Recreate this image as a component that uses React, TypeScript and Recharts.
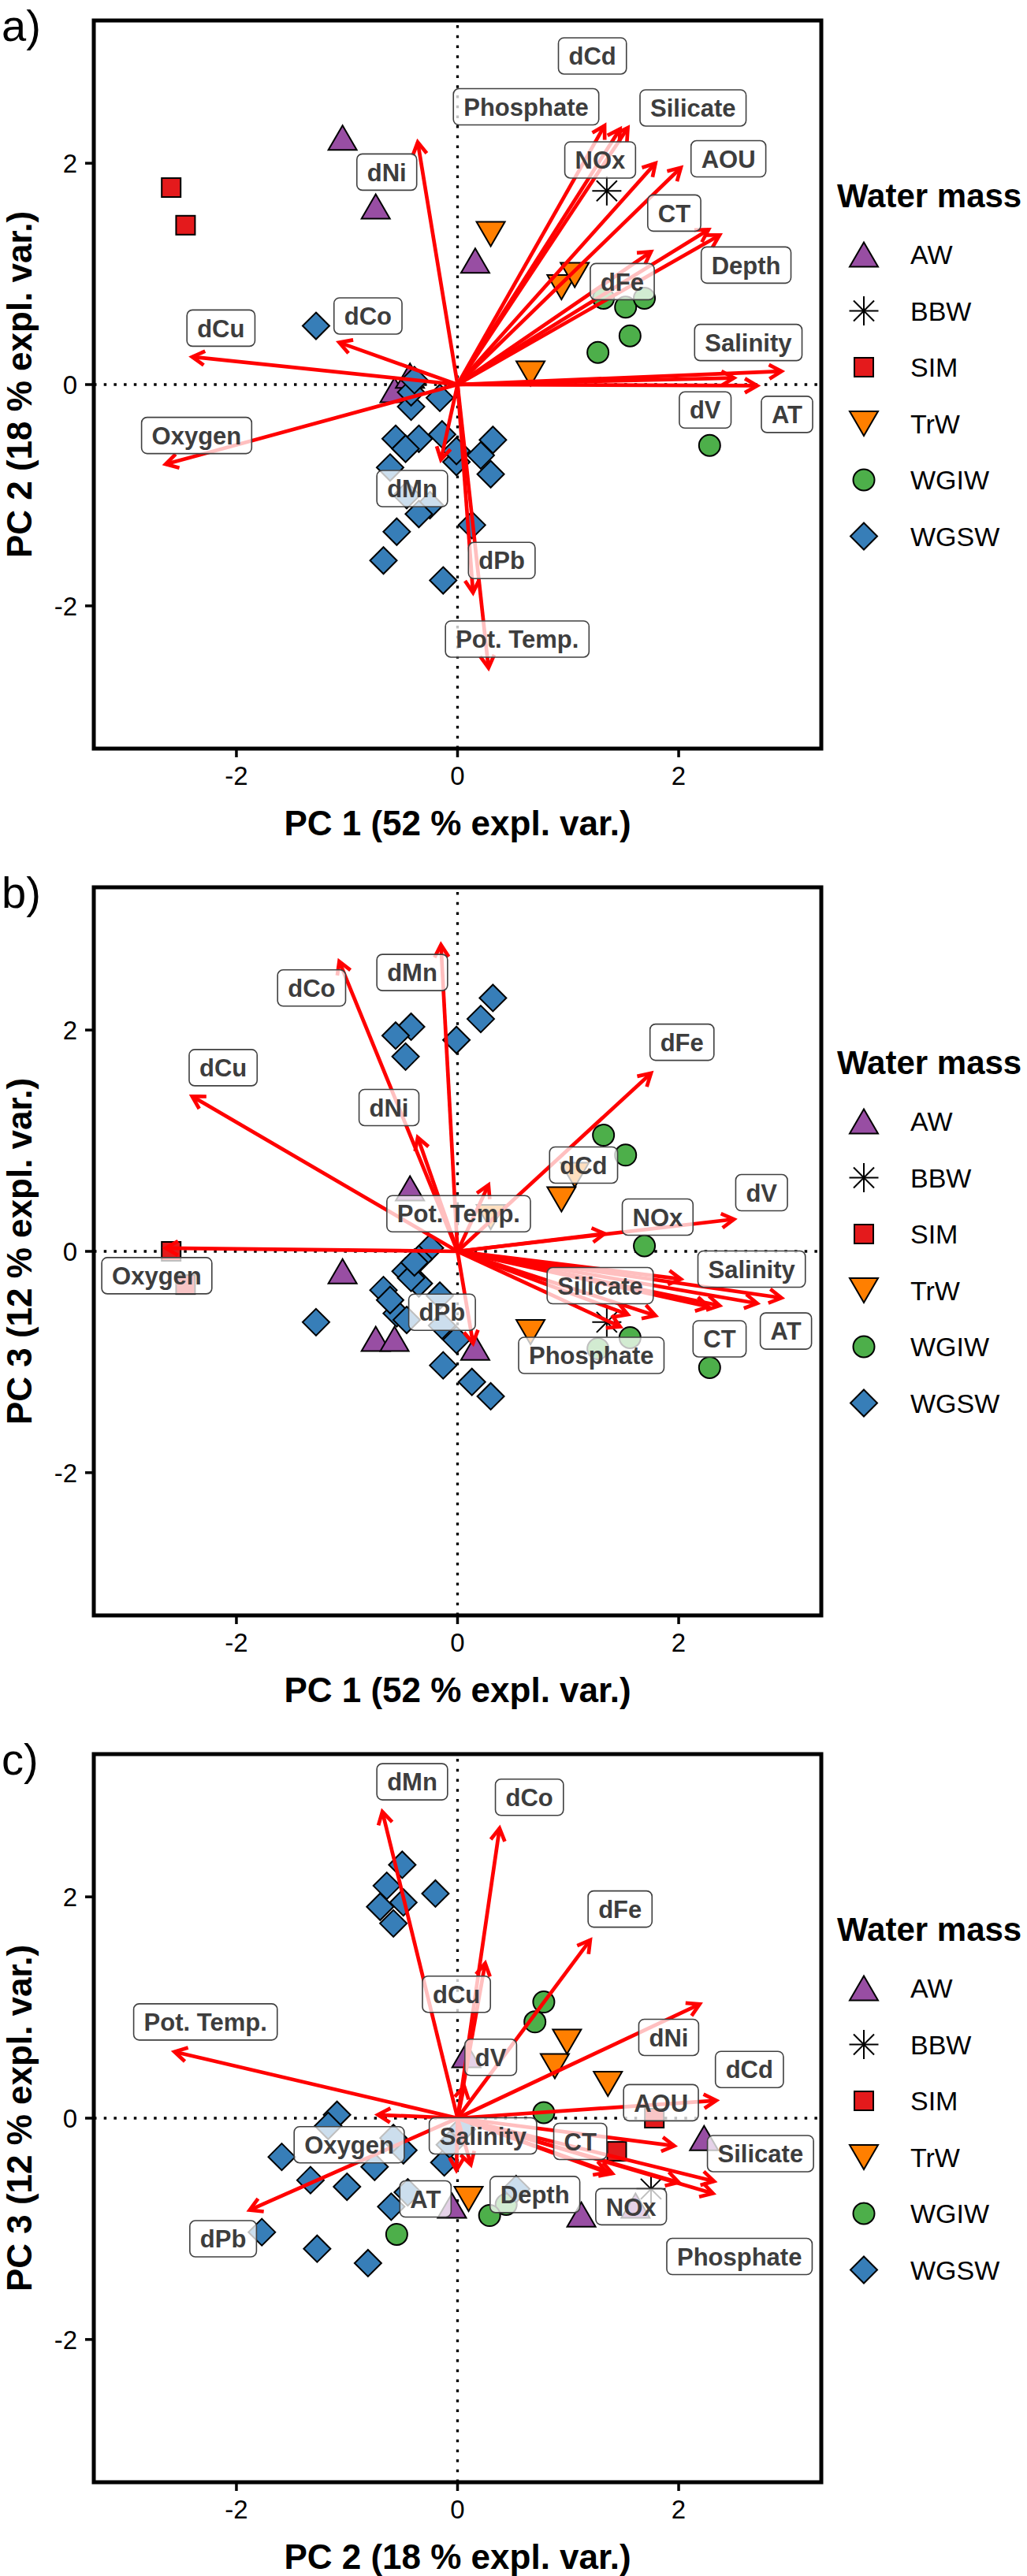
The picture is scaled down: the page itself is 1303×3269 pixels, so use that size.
import React from 'react';
import { ScatterChart, Scatter, XAxis, YAxis, ReferenceLine, ReferenceArea, Legend } from 'recharts';

const FONT = "'Liberation Sans', Arial, Helvetica, sans-serif";

// ---- categories ----
const WATER_MASSES = ['AW', 'BBW', 'SIM', 'TrW', 'WGIW', 'WGSW'];
const MASS_COLORS = ['#984EA3', '#000000', '#E41A1C', '#FF7F00', '#4DAF4A', '#377EB8'];

// ---- sample scores [PC1, PC2, PC3] ----
const AW_SCORES = [
  [-1.04, 2.23, -0.18],
  [-0.74, 1.61, -0.79],
  [0.16, 1.12, -0.87],
  [-0.57, -0.05, -0.79],
  [-0.43, 0.08, 0.57],
];
const BBW_SCORES = [[1.35, 1.75, -0.64]];
const SIM_SCORES = [
  [-2.59, 1.78, 0.0],
  [-2.46, 1.44, -0.3],
];
const TRW_SCORES = [
  [0.3, 1.36, 0.31],
  [0.66, 0.1, -0.73],
  [0.94, 0.88, 0.47],
  [1.06, 0.99, 0.69],
];
const WGIW_SCORES = [
  [1.32, 0.78, 1.05],
  [1.52, 0.7, 0.87],
  [1.69, 0.78, 0.05],
  [1.56, 0.44, -0.78],
  [1.27, 0.29, -0.88],
  [2.28, -0.55, -1.05],
];
const WGSW_SCORES = [
  [0.32, -0.5, 2.29],
  [0.21, -0.64, 2.1],
  [-0.42, -0.2, 2.03],
  [-0.56, -0.49, 1.95],
  [-0.01, -0.7, 1.91],
  [-0.47, -0.58, 1.76],
  [-0.13, -1.77, -1.03],
  [0.13, -1.27, -1.18],
  [0.3, -0.81, -1.31],
  [-1.28, 0.53, -0.64],
  [-0.67, -1.59, -0.35],
  [-0.55, -1.33, -0.56],
  [-0.46, -1.0, -0.62],
  [-0.25, -1.09, 0.03],
  [-0.35, -1.17, -0.07],
  [-0.61, -0.75, -0.44],
  [-0.01, -0.6, -0.8],
  [-0.14, -0.45, -0.67],
  [-0.35, -0.49, -0.29],
  [-0.47, -0.58, -0.18],
  [-0.16, -0.12, -0.4],
  [-0.42, -0.07, -0.24],
  [-0.39, 0.04, -0.1],
];
const SCORE_SETS = [AW_SCORES, BBW_SCORES, SIM_SCORES, TRW_SCORES, WGIW_SCORES, WGSW_SCORES];

// ---- variable loadings (arrow tips) ----
const VARIABLES = ['Depth', 'Pot. Temp.', 'Salinity', 'Oxygen', 'AOU', 'NOx', 'Phosphate', 'Silicate', 'AT', 'CT',
  'dCd', 'dCo', 'dCu', 'dFe', 'dMn', 'dNi', 'dPb', 'dV'];
const LOADING_PC1 = [2.37, 0.28, 2.93, -2.64, 2.02, 1.79, 1.47, 1.54, 2.71, 2.27, 1.33, -1.07, -2.4, 1.75, -0.15, -0.36, 0.14, 2.5];
const LOADING_PC2 = [1.35, -2.56, 0.12, -0.72, 1.96, 2.0, 2.31, 2.32, -0.01, 1.4, 2.34, 0.38, 0.25, 1.2, -0.68, 2.19, -1.88, 0.06];
const LOADING_PC3 = [-0.49, 0.6, -0.42, 0.03, -0.25, -0.58, -0.68, -0.57, -0.47, -0.5, 0.16, 2.62, 1.4, 1.61, 2.77, 1.03, -0.83, 0.29];
const LOADINGS = [LOADING_PC1, LOADING_PC2, LOADING_PC3];

// ---- axis text ----
const PC_TITLES = ['PC 1 (52 % expl. var.)', 'PC 2 (18 % expl. var.)', 'PC 3 (12 % expl. var.)'];
const AXIS_TICKS = [-2, 0, 2];
const AXIS_LIMIT = 3.29;

// ---- repelled label positions per panel [name, x, y] ----
const LABELS_A: [string, number, number][] = [
  ['dCd', 1.22, 2.97], ['Phosphate', 0.62, 2.51], ['Silicate', 2.13, 2.5], ['NOx', 1.29, 2.03],
  ['AOU', 2.45, 2.04], ['CT', 1.96, 1.55], ['Depth', 2.61, 1.08], ['dFe', 1.49, 0.93],
  ['Salinity', 2.63, 0.38], ['dV', 2.24, -0.23], ['AT', 2.98, -0.27], ['dNi', -0.64, 1.92],
  ['dCo', -0.81, 0.62], ['dCu', -2.14, 0.51], ['Oxygen', -2.36, -0.46], ['dMn', -0.41, -0.94],
  ['dPb', 0.4, -1.59], ['Pot. Temp.', 0.54, -2.3],
];
const LABELS_B: [string, number, number][] = [
  ['dCo', -1.32, 2.38], ['dMn', -0.41, 2.52], ['dCu', -2.12, 1.66], ['dNi', -0.62, 1.3],
  ['dFe', 2.03, 1.89], ['dCd', 1.14, 0.78], ['dV', 2.75, 0.53], ['NOx', 1.81, 0.31],
  ['Pot. Temp.', 0.01, 0.34], ['Oxygen', -2.72, -0.22], ['Silicate', 1.29, -0.31], ['Salinity', 2.66, -0.16],
  ['dPb', -0.14, -0.55], ['Phosphate', 1.21, -0.94], ['CT', 2.37, -0.79], ['AT', 2.97, -0.72],
];
const LABELS_C: [string, number, number][] = [
  ['dMn', -0.41, 3.04], ['dCo', 0.65, 2.9], ['dFe', 1.47, 1.89], ['dCu', -0.01, 1.12],
  ['Pot. Temp.', -2.28, 0.87], ['dNi', 1.91, 0.73], ['dV', 0.3, 0.55], ['dCd', 2.64, 0.44],
  ['AOU', 1.84, 0.14], ['Salinity', 0.23, -0.16], ['Oxygen', -0.98, -0.24], ['CT', 1.11, -0.21],
  ['Silicate', 2.74, -0.32], ['AT', -0.29, -0.73], ['Depth', 0.7, -0.69], ['NOx', 1.57, -0.8],
  ['dPb', -2.12, -1.09], ['Phosphate', 2.55, -1.25],
];

// ---- styling constants ----
const LABEL_FONT_SIZE = 31;
const LABEL_PAD_X = 13;
const LABEL_HEIGHT = 46;
const ARROW_COLOR = '#FF0000';
const ARROW_WIDTH = 4.7;

let measureCtx: any = null;
function measure(text: string): number {
  try {
    if (!measureCtx) measureCtx = document.createElement('canvas').getContext('2d');
    measureCtx.font = `bold ${LABEL_FONT_SIZE}px ${FONT}`;
    return measureCtx.measureText(text).width;
  } catch (e) {
    return text.length * LABEL_FONT_SIZE * 0.6;
  }
}

function drawMarker(group: string, cx: number, cy: number, color: string) {
  const sw = 2;
  switch (group) {
    case 'AW':
      return <polygon points={`${cx},${cy - 15.5} ${cx + 18},${cy + 15.5} ${cx - 18},${cy + 15.5}`} fill={color} stroke="#000" strokeWidth={sw} strokeLinejoin="miter" />;
    case 'BBW': {
      const a = 18.5, b = 13;
      return (
        <g stroke="#000" strokeWidth={2}>
          <line x1={cx - a} y1={cy} x2={cx + a} y2={cy} />
          <line x1={cx} y1={cy - a} x2={cx} y2={cy + a} />
          <line x1={cx - b} y1={cy - b} x2={cx + b} y2={cy + b} />
          <line x1={cx - b} y1={cy + b} x2={cx + b} y2={cy - b} />
        </g>
      );
    }
    case 'SIM':
      return <rect x={cx - 12} y={cy - 12} width={24} height={24} fill={color} stroke="#000" strokeWidth={sw} />;
    case 'TrW':
      return <polygon points={`${cx - 18},${cy - 15.5} ${cx + 18},${cy - 15.5} ${cx},${cy + 15.5}`} fill={color} stroke="#000" strokeWidth={sw} strokeLinejoin="miter" />;
    case 'WGIW':
      return <circle cx={cx} cy={cy} r={13.5} fill={color} stroke="#000" strokeWidth={sw} />;
    default:
      return <polygon points={`${cx},${cy - 17} ${cx + 17},${cy} ${cx},${cy + 17} ${cx - 17},${cy}`} fill={color} stroke="#000" strokeWidth={sw} />;
  }
}

const makePointShape = (group: string, color: string) => (props: any) => {
  const { cx, cy } = props;
  if (cx == null || cy == null) return <g />;
  return drawMarker(group, cx, cy, color);
};

const ArrowTip = (props: any) => {
  const { cx, cy, payload } = props;
  if (!payload || !payload.tip || cx == null) return <g />;
  const dx = payload.x;
  const dy = -payload.y;
  const len = Math.hypot(dx, dy) || 1;
  const bx = -dx / len;
  const by = -dy / len;
  const L = 18;
  const a = Math.PI / 6;
  const p1x = cx + L * (bx * Math.cos(a) - by * Math.sin(a));
  const p1y = cy + L * (bx * Math.sin(a) + by * Math.cos(a));
  const p2x = cx + L * (bx * Math.cos(-a) - by * Math.sin(-a));
  const p2y = cy + L * (bx * Math.sin(-a) + by * Math.cos(-a));
  return (
    <polyline points={`${p1x},${p1y} ${cx},${cy} ${p2x},${p2y}`} fill="none" stroke={ARROW_COLOR}
      strokeWidth={ARROW_WIDTH} strokeLinejoin="miter" strokeLinecap="butt" />
  );
};

const LabelBox = (props: any) => {
  const { cx, cy, payload } = props;
  if (!payload || cx == null) return <g />;
  const w = measure(payload.name) + 2 * LABEL_PAD_X;
  return (
    <g>
      <rect x={cx - w / 2} y={cy - LABEL_HEIGHT / 2} width={w} height={LABEL_HEIGHT} rx={7} ry={7}
        fill="#FFFFFF" fillOpacity={0.75} stroke="#404040" strokeWidth={1.6} />
      <text x={cx} y={cy + LABEL_FONT_SIZE * 0.36} textAnchor="middle" fontFamily={FONT} fontWeight="bold"
        fontSize={LABEL_FONT_SIZE} fill="#3d3d3d">{payload.name}</text>
    </g>
  );
};

const LegendContent = () => (
  <svg width={243} height={540} style={{ overflow: 'visible', display: 'block' }}>
    <text x={2} y={63} fontFamily={FONT} fontWeight="bold" fontSize={42} fill="#000">Water mass</text>
    {WATER_MASSES.map((m, i) => {
      const cy = 123 + i * 71.5;
      return (
        <g key={m}>
          {drawMarker(m, 36, cy, MASS_COLORS[i])}
          <text x={95} y={cy + 12} fontFamily={FONT} fontSize={34} fill="#000">{m}</text>
        </g>
      );
    })}
  </svg>
);

const makeXTitle = (title: string) => (props: any) => {
  const vb = props && props.viewBox ? props.viewBox : { x: 119, y: 950, width: 923, height: 100 };
  return (
    <text x={vb.x + vb.width / 2} y={vb.y + 110} textAnchor="middle" fontFamily={FONT} fontWeight="bold"
      fontSize={44} fill="#000">{title}</text>
  );
};

const makeYTitle = (title: string, tag: string) => (props: any) => {
  const vb = props && props.viewBox ? props.viewBox : { x: 40, y: 26, width: 79, height: 924 };
  const cy = vb.y + vb.height / 2;
  const x = 40;
  return (
    <g>
      <text x={x} y={cy} transform={`rotate(-90, ${x}, ${cy})`} textAnchor="middle" fontFamily={FONT}
        fontWeight="bold" fontSize={44} fill="#000">{title}</text>
      <text x={2} y={52} fontFamily={FONT} fontSize={56} fill="#000">{tag}</text>
    </g>
  );
};

function Panel({ tag, xi, yi, labels, top }: { tag: string; xi: number; yi: number; labels: [string, number, number][]; top: number }) {
  const tickStyle = { fontSize: 33, fill: '#000', fontFamily: FONT };
  return (
    <div style={{ position: 'absolute', left: 0, top, width: 1303, height: 1100 }}>
      <ScatterChart width={1303} height={1100} margin={{ top: 26, right: 261, bottom: 50, left: 40 }}>
        <XAxis type="number" dataKey="x" domain={[-AXIS_LIMIT, AXIS_LIMIT]} allowDataOverflow ticks={AXIS_TICKS}
          interval={0} height={100} tickSize={11} tickMargin={12} axisLine={false}
          tickLine={{ stroke: '#000', strokeWidth: 3.5 }} tick={tickStyle} label={makeXTitle(PC_TITLES[xi])} />
        <YAxis type="number" dataKey="y" domain={[-AXIS_LIMIT, AXIS_LIMIT]} allowDataOverflow ticks={AXIS_TICKS}
          interval={0} width={79} tickSize={11} tickMargin={10} axisLine={false}
          tickLine={{ stroke: '#000', strokeWidth: 3.5 }} tick={tickStyle} label={makeYTitle(PC_TITLES[yi], tag)} />
        <ReferenceLine x={0} stroke="#000" strokeWidth={3.3} strokeDasharray="3.5 9.2" />
        <ReferenceLine y={0} stroke="#000" strokeWidth={3.3} strokeDasharray="3.5 9.2" />
        {WATER_MASSES.map((m, gi) => (
          <Scatter key={m} name={m} isAnimationActive={false}
            data={SCORE_SETS[gi].map((s) => ({ x: s[xi], y: s[yi] }))}
            fill={MASS_COLORS[gi]} shape={makePointShape(m, MASS_COLORS[gi])} />
        ))}
        {VARIABLES.map((v, vi) => (
          <Scatter key={'arrow-' + v} name={'arrow-' + v} legendType="none" isAnimationActive={false}
            data={[{ x: 0, y: 0, tip: 0 }, { x: LOADINGS[xi][vi], y: LOADINGS[yi][vi], tip: 1 }]}
            line={{ stroke: ARROW_COLOR, strokeWidth: ARROW_WIDTH }} lineType="joint"
            fill={ARROW_COLOR} shape={ArrowTip} />
        ))}
        <Scatter name="labels" legendType="none" isAnimationActive={false}
          data={labels.map(([name, x, y]) => ({ x, y, name }))} shape={LabelBox} />
        <ReferenceArea x1={-AXIS_LIMIT} x2={AXIS_LIMIT} y1={-AXIS_LIMIT} y2={AXIS_LIMIT} fill="none"
          fillOpacity={0} stroke="#000" strokeWidth={5} ifOverflow="visible" />
        <Legend layout="vertical" align="center" verticalAlign="middle" width={243}
          wrapperStyle={{ position: 'absolute', left: 1060, top: 200, width: 243, height: 540 }}
          content={LegendContent} />
      </ScatterChart>
    </div>
  );
}

export default function App() {
  return (
    <div style={{ position: 'absolute', left: 0, top: 0, width: 1303, height: 3269, background: '#fff', overflow: 'hidden' }}>
      <Panel tag="a)" xi={0} yi={1} labels={LABELS_A} top={0} />
      <Panel tag="b)" xi={0} yi={2} labels={LABELS_B} top={1100} />
      <Panel tag="c)" xi={1} yi={2} labels={LABELS_C} top={2200} />
    </div>
  );
}
